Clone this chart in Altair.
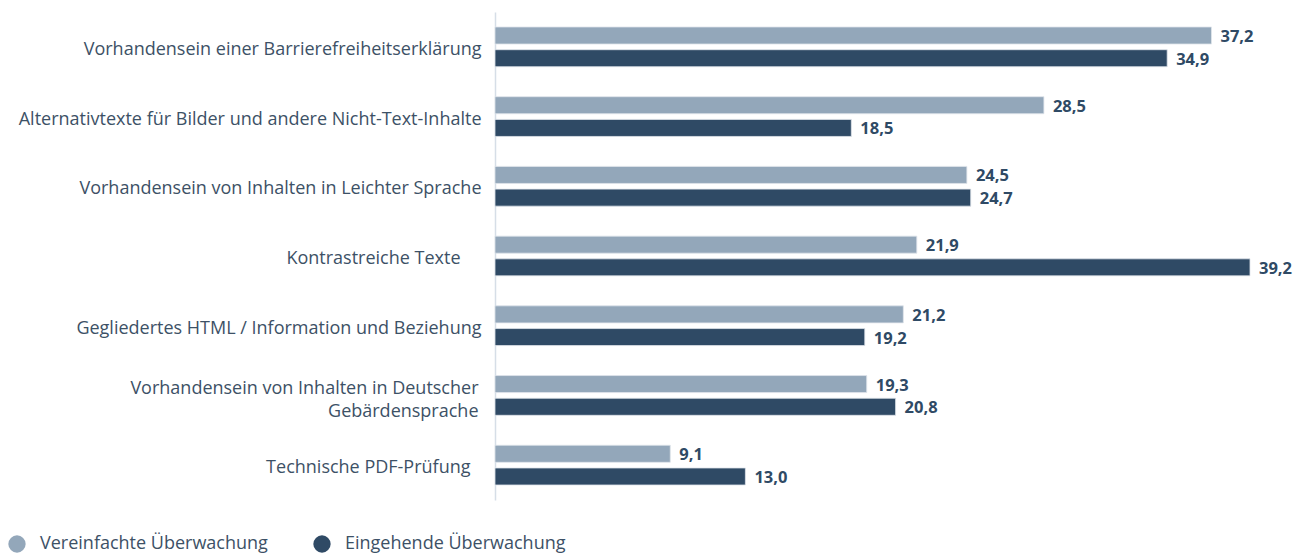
import altair as alt
import pandas as pd

categories = [
    "Vorhandensein einer Barrierefreiheitserklärung",
    "Alternativtexte für Bilder und andere Nicht-Text-Inhalte",
    "Vorhandensein von Inhalten in Leichter Sprache",
    "Kontrastreiche Texte",
    "Gegliedertes HTML / Information und Beziehung",
    "Vorhandensein von Inhalten in Deutscher\nGebärdensprache",
    "Technische PDF-Prüfung",
]
series = ["Vereinfachte Überwachung", "Eingehende Überwachung"]
vereinfacht = [37.2, 28.5, 24.5, 21.9, 21.2, 19.3, 9.1]
eingehend = [34.9, 18.5, 24.7, 39.2, 19.2, 20.8, 13.0]
colors = ["#93a7ba", "#2f4a65"]

rows = []
for c, a, b in zip(categories, vereinfacht, eingehend):
    rows.append({"cat": c, "series": series[0], "v": a})
    rows.append({"cat": c, "series": series[1], "v": b})
df = pd.DataFrame(rows)

FONT = "Open Sans"

pad_cond = {
    "condition": [
        {"test": "datum.label == 'Kontrastreiche Texte'", "value": 35},
        {"test": "datum.label == 'Technische PDF-Prüfung'", "value": 25},
        {"test": "indexof(datum.label, 'Gebärden') >= 0", "value": 17},
    ],
    "value": 14,
}
off_cond = {
    "condition": [
        {"test": "indexof(datum.label, 'Gebärden') >= 0", "value": -6},
    ],
    "value": 3,
}

y = alt.Y(
    "cat:N",
    sort=categories,
    title=None,
    scale=alt.Scale(paddingInner=0.43, paddingOuter=0.215),
    axis=alt.Axis(
        ticks=False,
        domainColor="#d6dee7",
        domainWidth=1.5,
        labelFont=FONT,
        labelFontSize=18,
        labelColor="#3d5166",
        labelPadding=pad_cond,
        labelOffset=off_cond,
        labelLimit=600,
        labelExpr="split(datum.label, '\\n')",
        labelLineHeight=23,
    ),
)
yoff = alt.YOffset("series:N", sort=series, scale=alt.Scale(paddingInner=0.25, paddingOuter=0))
x = alt.X("v:Q", scale=alt.Scale(domain=[0, 39.2], nice=False, zero=True), axis=None)

bars = alt.Chart(df).mark_bar(stroke="#dfe5eb", strokeWidth=0.8).encode(
    y=y,
    yOffset=yoff,
    x=x,
    color=alt.Color(
        "series:N",
        sort=series,
        scale=alt.Scale(domain=series, range=colors),
        legend=alt.Legend(
            title=None,
            orient="none",
            direction="horizontal",
            legendX=-487,
            legendY=523,
            symbolType="circle",
            symbolSize=300,
            symbolStrokeWidth=0,
            labelFont=FONT,
            labelFontSize=18,
            labelColor="#3d5166",
            labelOffset=14,
            labelLimit=400,
            columnPadding=45,
        ),
    ),
)

labels = alt.Chart(df).transform_calculate(
    lab="replace(format(datum.v, '.1f'), '.', ',')"
).mark_text(
    align="left", baseline="middle", dx=9, dy=1.5, font=FONT, fontSize=16.5, fontWeight="bold", color="#2f4a65"
).encode(y=y, yOffset=yoff, x=x, text="lab:N")

chart = (
    alt.layer(bars, labels)
    .properties(
        width=755,
        height=488,
        background="white",
        autosize=alt.AutoSizeParams(type="none"),
        padding={"left": 495, "top": 12, "right": 47, "bottom": 56},
    )
    .configure_view(stroke=None, strokeWidth=0)
)

chart.save("out.html", embed_options={"renderer": "svg", "actions": False})
